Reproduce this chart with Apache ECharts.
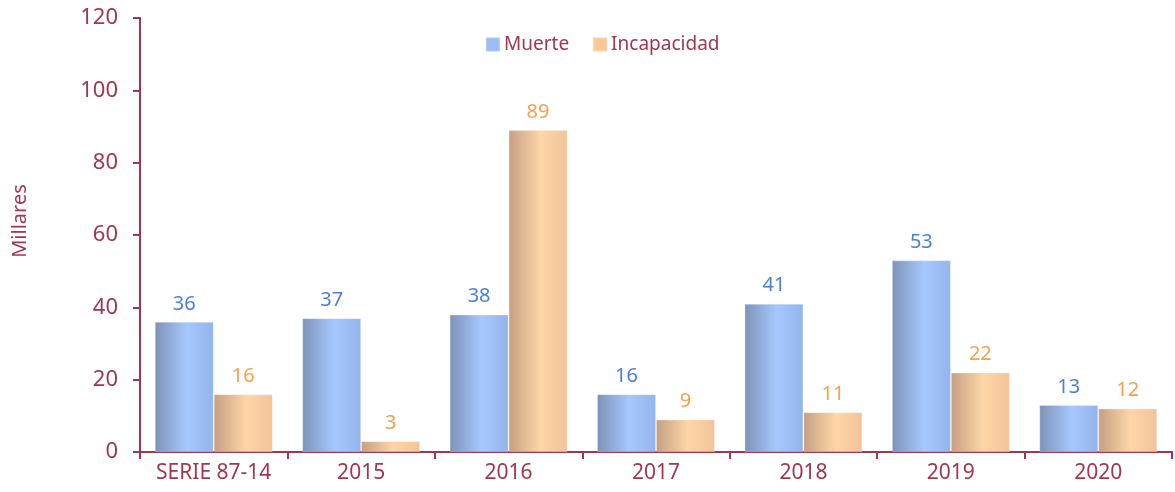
<!DOCTYPE html>
<html>
<head>
<meta charset="utf-8">
<script src="https://cdn.jsdelivr.net/npm/echarts@6/dist/echarts.min.js"></script>
<style>
  html, body { margin: 0; padding: 0; background: #ffffff; }
  #chart { width: 1175px; height: 492px; }
</style>
</head>
<body>
<div id="chart"></div>
<script>
// Categories and values (thousands)
const categories = ['SERIE 87-14', '2015', '2016', '2017', '2018', '2019', '2020'];
const muerte = [36, 37, 38, 16, 41, 53, 13];
const incapacidad = [16, 3, 89, 9, 11, 22, 12];
const seriesNames = ['Muerte', 'Incapacidad'];

const axisColor = '#a3364f';
const fontFamily = '"Noto Sans", "Open Sans", sans-serif';

function hGradient(stops) {
  return new echarts.graphic.LinearGradient(0, 0, 1, 0,
    stops.map(([offset, color]) => ({ offset, color })));
}

const blueFill = hGradient([[0, '#7e92b7'], [0.55, '#a6c8ff'], [1, '#93b4ea']]);
const orangeFill = hGradient([[0, '#c49f82'], [0.55, '#ffd6a7'], [1, '#f1c39a']]);

const chart = echarts.init(document.getElementById('chart'), null, { renderer: 'canvas' });

chart.setOption({
  animation: false,
  textStyle: { fontFamily },
  grid: { left: 140, right: 3, top: 18, bottom: 40, containLabel: false },
  legend: {
    data: [
      { name: seriesNames[0], itemStyle: { color: '#9bbcf5' } },
      { name: seriesNames[1], itemStyle: { color: '#fcc898' } }
    ],
    top: 30,
    left: 480,
    itemWidth: 14,
    itemHeight: 14,
    itemGap: 23,
    icon: 'rect',
    textStyle: { color: axisColor, fontSize: 19, fontFamily, padding: [0, 0, 0, -1] }
  },
  xAxis: {
    type: 'category',
    data: categories,
    axisLine: { lineStyle: { color: axisColor, width: 2 } },
    axisTick: { show: true, interval: 0, length: 7, lineStyle: { color: axisColor, width: 2 } },
    axisLabel: { color: axisColor, fontSize: 21, margin: 11, interval: 0, fontFamily }
  },
  yAxis: {
    type: 'value',
    min: 0,
    max: 120,
    interval: 20,
    name: 'Millares',
    nameLocation: 'middle',
    nameGap: 110,
    nameRotate: 90,
    nameTextStyle: { color: axisColor, fontSize: 20, fontFamily, padding: [0, 0, 0, 28] },
    axisLine: { show: true, lineStyle: { color: axisColor, width: 2 } },
    axisTick: { show: true, length: 7, lineStyle: { color: axisColor, width: 2 } },
    axisLabel: { color: axisColor, fontSize: 22, margin: 22, fontFamily },
    splitLine: { show: false }
  },
  series: [
    {
      name: seriesNames[0],
      type: 'bar',
      data: muerte,
      barGap: '0%',
      barCategoryGap: '20%',
      itemStyle: { color: blueFill, borderColor: 'rgba(235,242,255,0.3)', borderWidth: 1 },
      label: { show: true, position: 'top', distance: 8, color: '#4a7fdc', fontSize: 20, fontFamily }
    },
    {
      name: seriesNames[1],
      type: 'bar',
      data: incapacidad,
      barGap: '0%',
      barCategoryGap: '20%',
      itemStyle: { color: orangeFill, borderColor: 'rgba(255,242,228,0.3)', borderWidth: 1 },
      label: { show: true, position: 'top', distance: 8, color: '#f5a04f', fontSize: 20, fontFamily }
    }
  ]
});
</script>
</body>
</html>
